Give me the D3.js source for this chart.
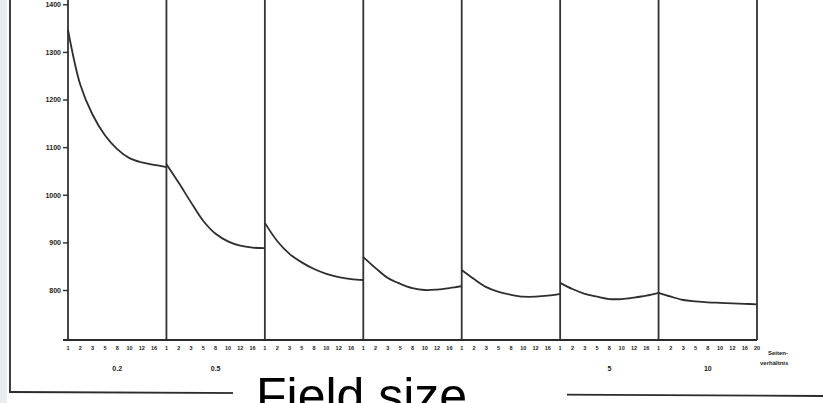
<!DOCTYPE html>
<html>
<head>
<meta charset="utf-8">
<script src="https://cdn.jsdelivr.net/npm/d3@7"></script>
<style>
  html, body { margin: 0; padding: 0; background: #ffffff; }
  svg { display: block; }
  text { font-family: "Liberation Sans", Arial, sans-serif; }
</style>
</head>
<body>
<svg id="chart" width="823" height="403"></svg>
<script>
// ---- data ----
const fieldSizes = ["0.2", "0.5", "1", "2", "3", "5", "10"];
const aspectRatios = [1, 2, 3, 5, 8, 10, 12, 16, 20];
const yTicks = [800, 900, 1000, 1100, 1200, 1300, 1400];
const values02 = [1346, 1231, 1168, 1125, 1096, 1077, 1068, 1063, 1058];
const values05 = [1064, 1025, 984, 945, 918, 902, 893, 889, 888];
const values1  = [941, 903, 876, 858, 844, 834, 827, 823, 821];
const values2  = [869, 846, 825, 813, 804, 800, 801, 804, 808];
const values3  = [842, 823, 806, 796, 790, 786, 786, 788, 792];
const values5  = [815, 802, 792, 786, 781, 781, 784, 788, 794];
const values10 = [794, 786, 779, 776, 774, 773, 772, 771, 770];
const seriesValues = [values02, values05, values1, values2, values3, values5, values10];
const xAxisTitle = "Field size";
const ratioTitle = ["Seiten-", "verhältnis"];

(function () {
  // ---- layout ----
  const svg = d3.select("#chart");
  const W = 823, H = 403;
  const mLeft = 68, mRight = 757, mTop = 0, mBottom = 340;
  const steps = aspectRatios.length - 1;           // 8 steps per panel
  const nPanels = fieldSizes.length;
  const box = { x: 233, y: 354, w: 334, h: 49 };

  const x = d3.scaleLinear().domain([0, nPanels * steps]).range([mLeft, mRight]);
  const y = d3.scaleLinear().domain([695, 1409]).range([mBottom, mTop]);

  const ink = "#2b2b2b";

  // scan edge strip
  svg.append("rect").attr("x", 0).attr("y", 0).attr("width", 7).attr("height", H).attr("fill", "#e9ecf1");

  // outer frame (left + bottom border of scanned figure)
  svg.append("line").attr("x1", 10).attr("y1", 0).attr("x2", 10).attr("y2", 393)
    .attr("stroke", ink).attr("stroke-width", 1.8);
  svg.append("line").attr("x1", 10).attr("y1", 392).attr("x2", 823).attr("y2", 396)
    .attr("stroke", ink).attr("stroke-width", 1.8);

  // panel separators (vertical lines)
  d3.range(nPanels + 1).forEach(p => {
    svg.append("line")
      .attr("x1", x(p * steps)).attr("x2", x(p * steps))
      .attr("y1", mTop).attr("y2", mBottom)
      .attr("stroke", "#333").attr("stroke-width", 1.8);
  });

  // x axis line
  svg.append("line").attr("x1", mLeft - 5).attr("x2", mRight).attr("y1", mBottom).attr("y2", mBottom)
    .attr("stroke", ink).attr("stroke-width", 1.9);

  // y axis ticks & labels
  const yAxis = d3.axisLeft(y).tickValues(yTicks).tickFormat(d3.format("d"))
    .tickSize(5).tickSizeOuter(0).tickPadding(2);
  const gy = svg.append("g").attr("transform", `translate(${mLeft},0)`).call(yAxis);
  gy.select(".domain").remove();
  gy.selectAll(".tick line").attr("stroke", ink).attr("stroke-width", 1.4);
  gy.selectAll(".tick text").attr("fill", "#222").attr("font-size", 7).attr("font-weight", "bold")
    .attr("font-family", "Liberation Sans, Arial, sans-serif");

  // x tick labels (aspect ratios per panel)
  const xTickData = [];
  fieldSizes.forEach((fs, p) => {
    aspectRatios.forEach((r, k) => {
      if (k < steps || p === nPanels - 1) xTickData.push({ idx: p * steps + k, label: r });
    });
  });
  svg.append("g").selectAll("text").data(xTickData).join("text")
    .attr("x", d => x(d.idx)).attr("y", 350)
    .attr("text-anchor", "middle").attr("font-size", 5.5).attr("font-weight", "bold").attr("fill", "#222")
    .text(d => d.label);

  // panel labels (field sizes) - those under the title box are hidden in the original
  const panelLabels = fieldSizes.map((d, p) => ({ label: d, cx: x(p * steps + steps / 2) }))
    .filter(d => d.cx < box.x || d.cx > box.x + box.w);
  svg.append("g").selectAll("text").data(panelLabels).join("text")
    .attr("x", d => d.cx).attr("y", 371)
    .attr("text-anchor", "middle").attr("font-size", 7).attr("font-weight", "bold").attr("fill", "#222")
    .text(d => d.label);

  // aspect ratio title
  svg.append("text").attr("x", 768).attr("y", 355).attr("font-size", 6).attr("font-weight", "bold")
    .attr("fill", "#222").text(ratioTitle[0]);
  svg.append("text").attr("x", 760).attr("y", 365).attr("font-size", 6).attr("font-weight", "bold")
    .attr("fill", "#222").text(ratioTitle[1]);

  // curves
  const lineGen = d3.line().curve(d3.curveCatmullRom.alpha(0.5));
  seriesValues.forEach((vals, p) => {
    const pts = vals.map((v, k) => [x(p * steps + k), y(v)]);
    svg.append("path")
      .attr("d", lineGen(pts))
      .attr("fill", "none").attr("stroke", "#2e2e2e").attr("stroke-width", 1.8);
  });

  // overlay box with "Field size"
  svg.append("rect").attr("x", box.x).attr("y", box.y).attr("width", box.w).attr("height", box.h).attr("fill", "#ffffff");
  svg.append("text").attr("x", 256).attr("y", 413)
    .attr("font-size", 50).attr("fill", "#000").text(xAxisTitle);
})();
</script>
</body>
</html>
